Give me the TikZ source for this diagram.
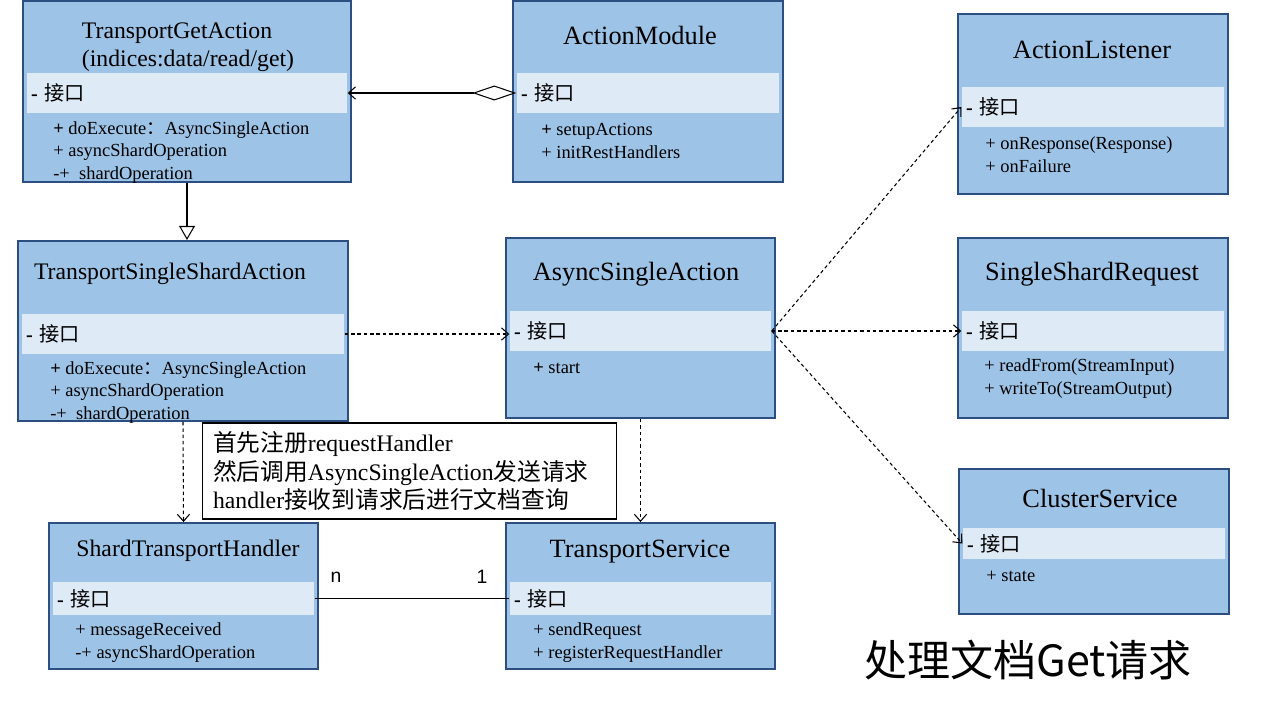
\documentclass[tikz,border=0pt]{standalone}
\usepackage{fontspec}
\setmainfont{Liberation Serif}
\newfontfamily\cjk{Noto Sans CJK SC}
\newfontfamily\multfont{Liberation Sans}
\usetikzlibrary{arrows.meta}
\definecolor{boxblue}{RGB}{157,195,230}
\definecolor{boxline}{RGB}{44,78,128}
\definecolor{bandblue}{RGB}{222,235,247}
\tikzset{
    classbox/.style={rectangle, fill=boxblue, draw=boxline, line width=1.1pt},
    band/.style={rectangle, fill=bandblue, inner xsep=2.5pt, inner ysep=0pt,
        align=left, minimum height=0.8cm, font=\fontsize{11.5}{13}\selectfont},
    classtitle/.style={inner sep=0pt, align=left, font=\fontsize{15}{18}\selectfont},
    longtitle/.style={classtitle, font=\fontsize{13.5}{16}\selectfont},
    memberlist/.style={inner sep=0pt, anchor=west, align=left,
        font=\fontsize{10.5}{12.8}\selectfont}
}
\tikzset{
    notebox/.style={rectangle, draw, fill=white, line width=0.6pt, inner xsep=0.22cm,
        align=left, font=\fontsize{13.5}{16}\selectfont},
    mult/.style={inner sep=0pt, font=\multfont\fontsize{11}{13}\selectfont}
}
\tikzset{
    every edge/.append style={line width=0.6pt},
    dep/.style={dash pattern=on 2pt off 1.6pt, -{Straight Barb[length=4pt,width=7pt]}},
    aggr/.style={{Straight Barb[length=4pt,width=7pt]}-{Diamond[open,length=25pt,width=8.5pt]}},
    inherit/.style={-{Triangle[open,length=8pt,width=9pt]}}
}
\newcommand{\iface}{\textbf{-} {\cjk 接口}}

\begin{document}
\begin{tikzpicture}[x=0.02cm, y=-0.02cm]
	\useasboundingbox (0,0) rectangle (1280,720);
	\node (getact) [classbox, minimum width=6.56cm, minimum height=3.62cm] at (187,91.5) {};
	\node (modact) [classbox, minimum width=5.4cm, minimum height=3.62cm] at (648,91.5) {};
	\node (listener) [classbox, minimum width=5.4cm, minimum height=3.6cm] at (1093,104) {};
	\node (ssaction) [classbox, minimum width=6.6cm, minimum height=3.6cm] at (183,331) {};
	\node (async) [classbox, minimum width=5.38cm, minimum height=3.6cm] at (640.5,328) {};
	\node (ssrequest) [classbox, minimum width=5.4cm, minimum height=3.6cm] at (1093,328) {};
	\node (sthandler) [classbox, minimum width=5.38cm, minimum height=2.92cm] at (183.5,596) {};
	\node (tservice) [classbox, minimum width=5.38cm, minimum height=2.92cm] at (640.5,596) {};
	\node (cluster) [classbox, minimum width=5.4cm, minimum height=2.9cm] at (1094,541.5) {};
	
	\node (getband) [band, text width=6.24cm] at (187,93) {\iface};
	\node (modband) [band, text width=5.08cm] at (648,93) {\iface};
	\node (lsband) [band, text width=5.08cm] at (1093,107) {\iface};
	\node (ssband) [band, text width=6.28cm] at (183,334) {\iface};
	\node (asband) [band, text width=5.06cm] at (640.5,331) {\iface};
	\node (rqband) [band, text width=5.08cm] at (1093,331) {\iface};
	\node (hdband) [band, text width=5.06cm, minimum height=0.66cm] at (183.5,598.5) {\iface};
	\node (tsband) [band, text width=5.06cm, minimum height=0.66cm] at (640.5,598.5) {\iface};
	\node (clband) [band, text width=5.08cm, minimum height=0.62cm] at (1094,543.5) {\iface};
	
	\node (gettitle) [longtitle] at (188,47) {TransportGetAction\\(indices:data/read/get)};
	\node (modtitle) [classtitle] at (640,35) {ActionModule};
	\node (lstitle) [classtitle] at (1092,50) {ActionListener};
	\node (sstitle) [longtitle] at (170,274) {TransportSingleShardAction};
	\node (astitle) [classtitle] at (636,274) {AsyncSingleAction};
	\node (rqtitle) [classtitle] at (1092,274) {SingleShardRequest};
	\node (hdtitle) [longtitle] at (188,551) {ShardTransportHandler};
	\node (tstitle) [classtitle] at (640,552) {TransportService};
	\node (cltitle) [classtitle] at (1100,498) {ClusterService};
	
	\node (getmem) [memberlist] at (53,152.5) {\textbf{+} doExecute{\cjk ：}AsyncSingleAction\\+ asyncShardOperation\\-+\ \ shardOperation};
	\node (modmem) [memberlist] at (541,141) {\textbf{+} setupActions\\+ initRestHandlers};
	\node (lsmem) [memberlist] at (985,154.5) {+ onResponse(Response)\\+ onFailure};
	\node (ssmem) [memberlist] at (50,392.5) {\textbf{+} doExecute{\cjk ：}AsyncSingleAction\\+ asyncShardOperation\\-+\ \ shardOperation};
	\node (asmem) [memberlist] at (533,368) {\textbf{+} start};
	\node (rqmem) [memberlist] at (984,378.5) {+ readFrom(StreamInput)\\+ writeTo(StreamOutput)};
	\node (hdmem) [memberlist] at (75,642.5) {+ messageReceived\\-+ asyncShardOperation};
	\node (tsmem) [memberlist] at (533,642.5) {+ sendRequest\\+ registerRequestHandler};
	\node (clmem) [memberlist] at (986,576) {+ state};
	
	\node (note) [notebox, text width=7.86cm, minimum height=1.92cm] at (409.5,471)
		{{\cjk 首先注册}requestHandler\\{\cjk 然后调用}AsyncSingleAction{\cjk 发送请求}\\handler{\cjk 接收到请求后进行文档查询}};
	\node (nlab) [mult] at (336,577) {n};
	\node (onelab) [mult] at (482,577) {1};
	\node (pagetitle) [inner sep=0pt, font=\cjk\fontsize{24.5}{28}\selectfont] at (1028,660) {处理文档Get请求};
	
	\draw (getband.east) edge[aggr] (modband.west);
	\draw (getact.south) edge[inherit] (getact.south |- ssaction.north);
	\draw (ssband.east) edge[dep] (asband.west |- ssband.east);
	\draw (asband.east) edge[dep] (lsband.west);
	\draw (asband.east) edge[dep] (rqband.west);
	\draw (asband.east) edge[dep] (clband.west);
	\draw (ssaction.south) edge[dep] (sthandler.north);
	\draw (async.south) edge[dep] (tservice.north);
	\draw (hdband.east) edge (tsband.west);
\end{tikzpicture}
\end{document}
